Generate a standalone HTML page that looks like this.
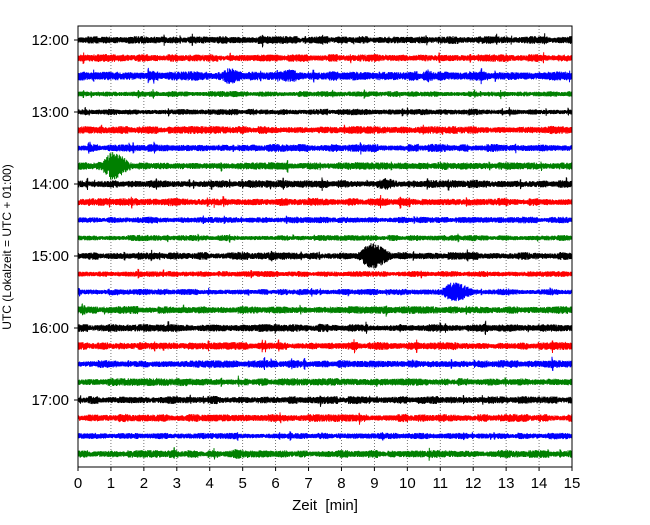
<!DOCTYPE html>
<html><head><meta charset="utf-8"><style>
body{margin:0;background:#fff;}
svg text{font-family:"Liberation Sans","DejaVu Sans",sans-serif;}
</style></head><body>
<svg id="chart" width="650" height="520" xmlns="http://www.w3.org/2000/svg">
<g id="grid"></g>
<g id="traces"></g>
<rect x="78" y="26" width="494" height="441" fill="none" stroke="#000" stroke-width="1"/>
<g id="xaxis"></g>
<g id="yaxis"></g>
<text x="325" y="510" font-size="15" text-anchor="middle" xml:space="preserve">Zeit  [min]</text>
<text transform="translate(11,247) rotate(-90)" font-size="12" text-anchor="middle">UTC (Lokalzeit = UTC + 01:00)</text>
</svg>
<script>
// Data
const xTicks = [0,1,2,3,4,5,6,7,8,9,10,11,12,13,14,15];
const hourLabels = ["12:00","13:00","14:00","15:00","16:00","17:00"];
const traceCount = 24;
const traceColors = ["#000000","#ff0000","#0000ff","#008000"];
const baseNoise = [3.2,3.2,3.8,2.4,2.6,3.2,3.2,3.2,3.2,3.2,2.6,2.4,3.2,2.4,2.6,3.2,3.2,3.2,3.2,3.2,3.2,3.2,2.6,3.2];
// events: trace index, minute, peak half-amplitude (px), half-width (min)
const evTrace = [2,2,2,7,8,12,14,23,5,5,1,9];
const evTime  = [4.6,6.4,10.6,1.05,9.3,8.9,11.4,4.8,3.0,9.2,10.5,6.3];
const evAmp   = [8,7,6,14,6,13,10,5,3.5,3.5,3.5,3];
const evWidth = [0.45,0.45,0.3,0.5,0.45,0.55,0.55,0.35,0.3,0.3,0.3,0.3];

const X0=78, X1=572, Y0=26, Y1=467;
const xs = m => X0 + (m/15)*(X1-X0);
const ys = i => 40 + i*18;
const NS='http://www.w3.org/2000/svg';
function mk(tag, attrs, parent){const e=document.createElementNS(NS,tag);for(const k in attrs)e.setAttribute(k,attrs[k]);parent.appendChild(e);return e;}

const grid=document.getElementById('grid'), xa=document.getElementById('xaxis'), ya=document.getElementById('yaxis'), tr=document.getElementById('traces');
xTicks.forEach(t=>{
  const x=xs(t);
  if(t>0&&t<15){const l=mk('line',{x1:x,x2:x,y1:Y0,y2:Y1,stroke:'#555','stroke-width':0.8,'stroke-dasharray':'1,2'},grid);
    
    }
  const tk=mk('line',{x1:x,x2:x,y1:Y1,y2:Y1+4,stroke:'#000'},xa);
  
  
  const tx=mk('text',{x:x,y:Y1+21,'font-size':15,'text-anchor':'middle'},xa);
  tx.textContent=t;
  
  
});
hourLabels.forEach((h,k)=>{
  const y=ys(k*4);
  const tk=mk('line',{x1:X0-4,x2:X0,y1:y,y2:y,stroke:'#000'},ya);
  
  
  const tx=mk('text',{x:X0-9,y:y+5,'font-size':15,'text-anchor':'end'},ya);
  tx.textContent=h;
  
  
});
// deterministic texture for background noise
function hash(n){let s=Math.sin(n*12.9898+78.233)*43758.5453;return s-Math.floor(s);}
for(let i=0;i<traceCount;i++){
  const y=ys(i); let pts=[];
  const N=(X1-X0)*6;
  for(let p=0;p<=N;p++){
    const m=p/N*15;
    let env=baseNoise[i]*(0.8+0.5*hash(i*7.1+Math.floor(p/60)));
    if(hash(i*13.3+Math.floor(p/6)*0.71)>0.985) env*=1.8;
    for(let e=0;e<evTrace.length;e++){
      if(evTrace[e]!==i)continue;
      const d=(m-evTime[e])/evWidth[e];
      env=Math.max(env,evAmp[e]*Math.exp(-d*d*(d>0?1:2.5)));
    }
    const v=(p%2?1:-1)*(0.3+0.7*hash(i*101.7+p*3.13))*env;
    pts.push(xs(m).toFixed(2)+','+(y+v).toFixed(1));
  }
  const pl=mk('polyline',{points:pts.join(' '),fill:'none',stroke:traceColors[i%4],'stroke-width':1},tr);
  
  
}
</script>
</body></html>
